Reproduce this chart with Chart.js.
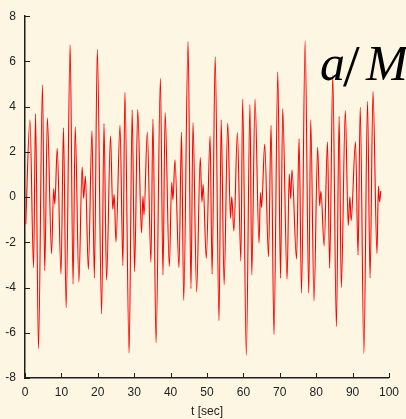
<!DOCTYPE html>
<html lang="en">
<head>
    <meta charset="UTF-8">
    <title>a/M vs t</title>
    <script src="https://cdn.jsdelivr.net/npm/chart.js"></script>
    <style>
        html, body {
            margin: 0;
            padding: 0;
            background: #fdf6e3;
        }

        #waveChart {
            display: block;
        }
    </style>
</head>
<body>
    <canvas id="waveChart" width="406" height="419"></canvas>
    <script>
        // turning points of the signal (time in seconds, value)
        const times = [0.2, 1.36, 2.35, 2.9, 3.7, 4.8, 5.42, 6.15, 7.3, 7.86, 8.2, 8.85, 9.9, 10.57, 11.3, 12.4,
            13.2, 13.8, 14.8, 15.7, 16.1, 16.6, 17.4, 18.4, 19.05, 19.87, 21.05, 21.7, 22.4, 23.5, 24.1, 24.5,
            25.0, 26.1, 26.9, 27.45, 28.6, 29.45, 30.1, 30.98, 32.0, 32.4, 32.7, 33.6, 34.6, 35.15, 36.0, 37.2,
            37.9, 38.5, 39.65, 40.3, 40.65, 41.2, 42.3, 43.0, 43.6, 44.8, 45.6, 46.15, 47.15, 48.15, 48.6, 48.95,
            49.8, 50.85, 51.4, 52.25, 53.3, 53.9, 54.7, 55.7, 56.45, 56.8, 57.4, 58.35, 59.3, 59.8, 60.8, 61.8,
            62.3, 63.2, 64.3, 64.7, 65.0, 65.85, 66.9, 67.6, 68.4, 69.45, 70.2, 70.8, 72.0, 72.6, 73.0, 73.35,
            74.6, 75.3, 75.97, 76.96, 77.95, 78.5, 79.4, 80.4, 80.95, 81.3, 82.2, 83.1, 83.7, 84.55, 85.55, 86.3,
            86.9, 88.0, 88.8, 89.25, 89.6, 90.8, 91.5, 92.1, 93.1, 94.1, 94.8, 95.6, 96.7, 97.1, 97.4, 97.75];
        const values = [-1.2, 3.42, -3.12, 3.68, -6.7, 4.96, -3.25, 3.5, -2.5, 0.37, -0.31, 2.16, -3.4, 3.07, -4.89, 6.73,
            -3.84, 3.11, -3.76, 1.33, -0.05, 0.93, -3.2, 2.93, -3.58, 6.52, -5.17, 3.25, -3.67, 2.7, -0.54, 0.12,
            -1.98, 3.18, -3.03, 4.63, -6.9, 3.86, -3.29, 3.87, -1.58, 0.03, -0.79, 2.88, -2.88, 3.45, -6.44, 5.25,
            -3.44, 3.73, -3.07, 0.66, -0.12, 1.65, -3.12, 2.87, -4.57, 6.88, -4.05, 3.3, -4.2, 1.75, -0.21, 0.56,
            -2.71, 2.7, -3.41, 6.2, -5.47, 3.42, -3.87, 3.28, -0.94, 0.01, -1.5, 2.86, -2.83, 4.34, -7.0, 4.09,
            -3.44, 4.34, -2.03, 0.2, -0.46, 2.35, -2.64, 3.18, -6.08, 5.54, -3.58, 3.9, -3.63, 1.02, -0.07, 1.21,
            -2.74, 2.59, -4.24, 6.91, -4.24, 3.42, -4.6, 2.2, -0.38, 0.27, -2.16, 2.45, -3.15, 5.4, -5.73, 3.57,
            -4.0, 3.83, -1.26, 0.01, -1.04, 2.45, -2.57, 3.97, -6.92, 4.24, -3.58, 4.67, -2.49, 0.49, -0.21, 0.27];
        const xTicks = [0, 10, 20, 30, 40, 50, 60, 70, 80, 90, 100];
        const yTicks = [-8, -6, -4, -2, 0, 2, 4, 6, 8];
        const xLabel = 't [sec]';

        const axisColor = '#1e1e1e';
        const textColor = '#222';
        const fontFamily = '"Liberation Sans", Arial, Helvetica, sans-serif';

        // small inward ticks on both axes
        const inwardTicks = {
            id: 'inwardTicks',
            afterDraw(chart) {
                const { ctx, chartArea, scales } = chart;
                ctx.save();
                ctx.strokeStyle = axisColor;
                ctx.lineWidth = 1;
                yTicks.forEach(v => {
                    const y = Math.round(scales.y.getPixelForValue(v)) + 0.5;
                    ctx.beginPath();
                    ctx.moveTo(chartArea.left, y);
                    ctx.lineTo(chartArea.left + 5, y);
                    ctx.stroke();
                });
                xTicks.forEach(v => {
                    const x = Math.round(scales.x.getPixelForValue(v)) + 0.5;
                    ctx.beginPath();
                    ctx.moveTo(x, chartArea.bottom);
                    ctx.lineTo(x, chartArea.bottom - 5);
                    ctx.stroke();
                });
                ctx.restore();
            }
        };

        // italic math label a/M in the upper right, over the curve
        const mathLabel = {
            id: 'mathLabel',
            afterDatasetsDraw(chart) {
                const { ctx } = chart;
                const serif = '"Liberation Serif", "DejaVu Serif", serif';
                ctx.save();
                ctx.fillStyle = '#000';
                ctx.textBaseline = 'alphabetic';
                ctx.font = 'italic 50px ' + serif;
                ctx.fillText('a', 320, 80);
                ctx.font = '60px ' + serif;
                ctx.fillText('/', 343, 86);
                ctx.font = 'italic 50px ' + serif;
                ctx.fillText('M', 366, 80);
                ctx.restore();
            }
        };

        const points = times.map((t, i) => ({ x: t, y: values[i] }));

        new Chart(document.getElementById('waveChart'), {
            type: 'line',
            data: {
                datasets: [{
                    data: points,
                    borderColor: '#ff0000',
                    borderWidth: 1.1,
                    pointRadius: 0,
                    fill: false,
                    cubicInterpolationMode: 'monotone'
                }]
            },
            options: {
                responsive: false,
                animation: false,
                events: [],
                layout: {
                    padding: { top: 11, right: 12, left: 0, bottom: 0 }
                },
                plugins: {
                    legend: { display: false },
                    tooltip: { enabled: false }
                },
                scales: {
                    x: {
                        type: 'linear',
                        min: 0,
                        max: 100,
                        afterFit: scale => { scale.height = 41; },
                        afterBuildTicks: scale => { scale.ticks = xTicks.map(v => ({ value: v })); },
                        grid: { display: false, drawTicks: false },
                        border: { display: true, color: axisColor, width: 1.5 },
                        ticks: {
                            color: textColor,
                            padding: 7,
                            maxRotation: 0,
                            font: { family: fontFamily, size: 12 }
                        },
                        title: {
                            display: true,
                            text: xLabel,
                            color: textColor,
                            padding: { top: 2, bottom: 0 },
                            font: { family: fontFamily, size: 12 }
                        }
                    },
                    y: {
                        type: 'linear',
                        min: -8,
                        max: 8,
                        afterFit: scale => { scale.width = 25; },
                        afterBuildTicks: scale => { scale.ticks = yTicks.map(v => ({ value: v })); },
                        grid: { display: false, drawTicks: false },
                        border: { display: true, color: axisColor, width: 1.5 },
                        ticks: {
                            color: textColor,
                            padding: 9,
                            font: { family: fontFamily, size: 12 }
                        }
                    }
                }
            },
            plugins: [mathLabel, inwardTicks]
        });
    </script>
</body>
</html>
